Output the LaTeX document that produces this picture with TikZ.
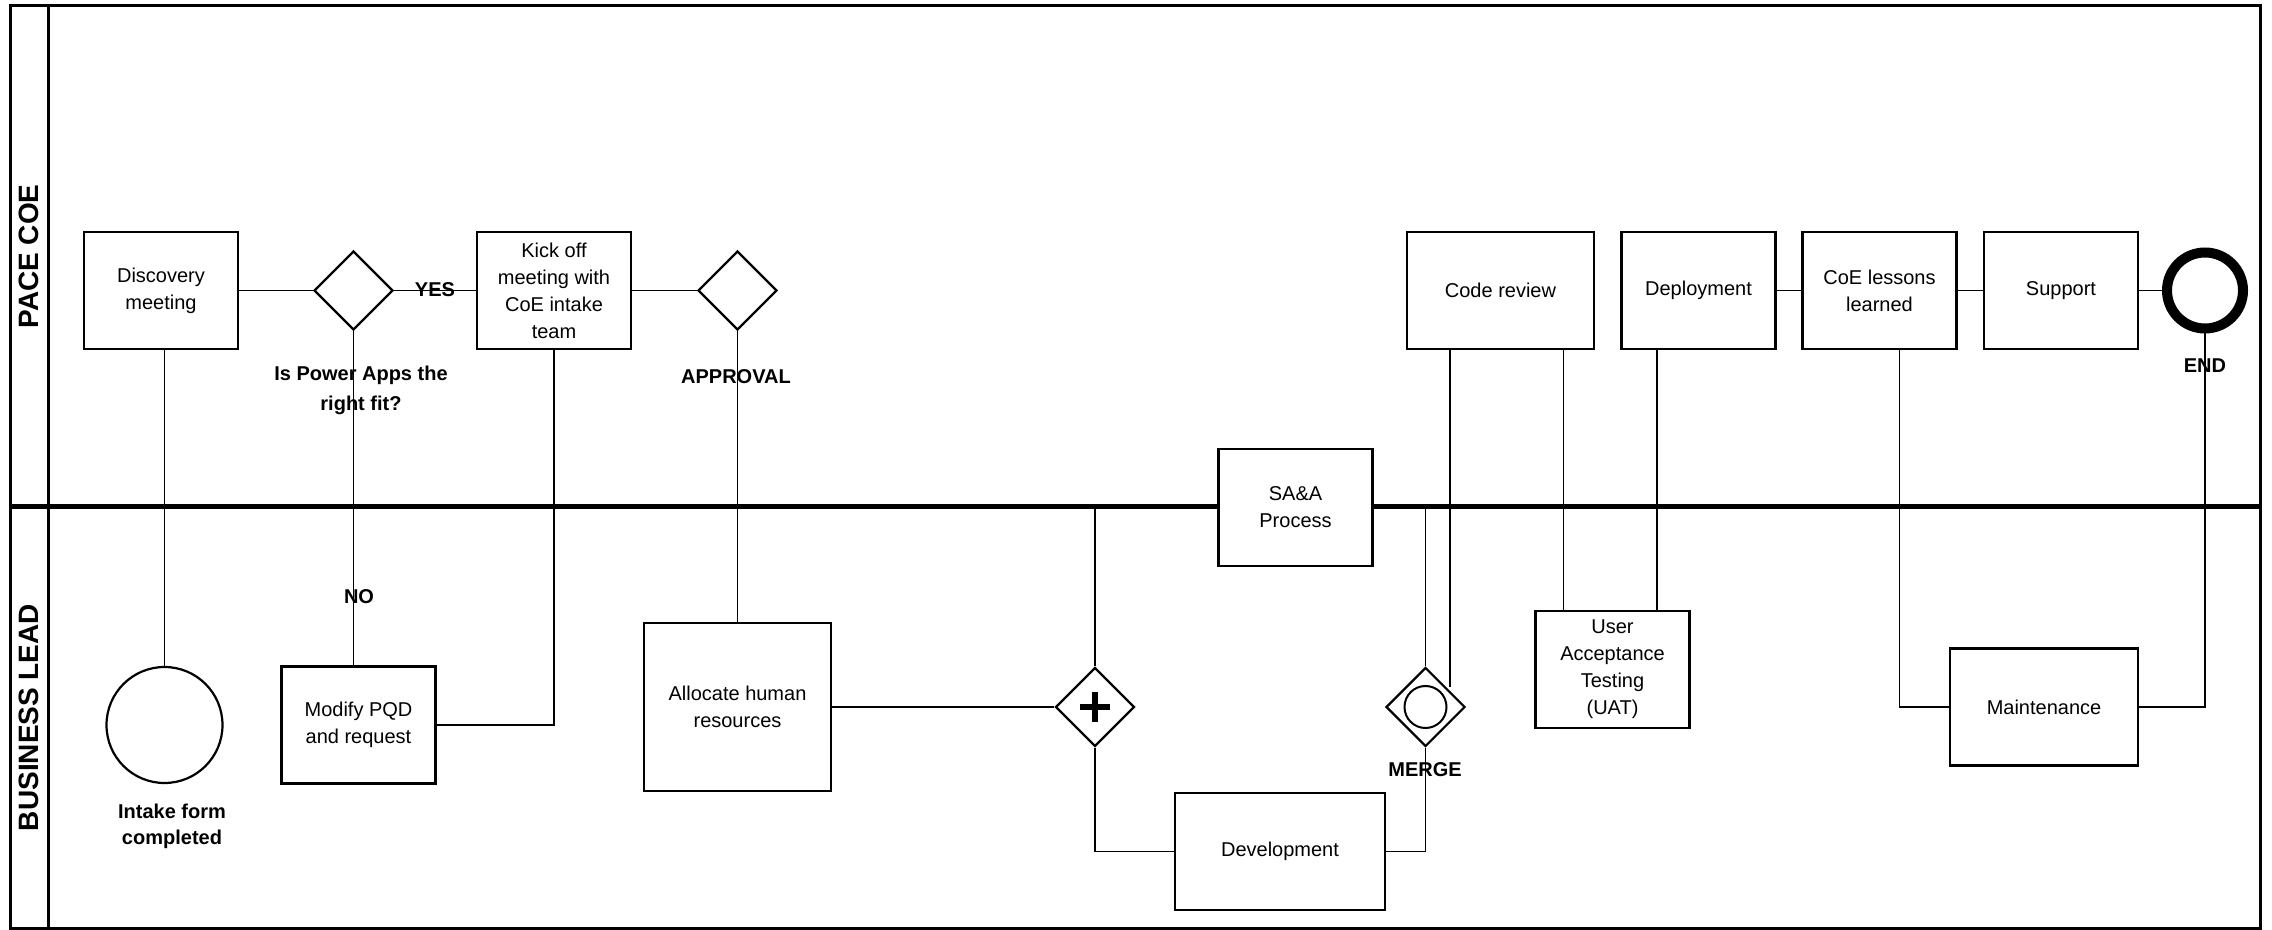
\documentclass[tikz,border=0pt]{standalone}
\usepackage{fontspec}
\setmainfont{Liberation Sans}
\usetikzlibrary{shapes.geometric}

\tikzset{
	task/.style={draw, line width=1.1pt, fill=white, align=center, inner sep=2pt,
		minimum width=77pt, minimum height=58.5pt, font=\fontsize{10pt}{13.5pt}\selectfont},
	gate/.style={diamond, draw, line width=1.1pt, fill=white, inner sep=0pt,
		minimum width=39.5pt, minimum height=39.5pt},
	startev/.style={circle, draw, line width=1.1pt, inner sep=0pt, minimum size=58pt},
	endev/.style={circle, draw, line width=5pt, inner sep=0pt, minimum size=38pt},
	lbl/.style={font=\fontsize{10pt}{13pt}\selectfont\bfseries, inner sep=0pt, align=center},
	lane/.style={rotate=90, font=\fontsize{14pt}{16pt}\selectfont\bfseries, inner sep=0pt},
	flow/.style={line width=0.9pt}
}

\begin{document}
\begin{tikzpicture}[x=0.5pt, y=-0.5pt]
	\useasboundingbox (0,0) rectangle (2272,930);
	% pool frame and lanes
	\draw[line width=1.5pt] (10,6) rectangle (2260,928);
	\draw[line width=1.5pt] (48,6) -- (48,928);
	\draw[line width=2.5pt] (10,507) -- (2260,507);
	\node[lane] (pace) at (29,256.5) {PACE COE};
	\node[lane] (biz) at (29,717.5) {BUSINESS LEAD};
	% top lane (PACE CoE)
	\node[task] (disc) at (161,290.5) {Discovery\\meeting};
	\node[gate] (gw1) at (353.5,290.5) {};
	\node[task] (kick) at (554,290.5) {Kick off\\meeting with\\CoE intake\\team};
	\node[gate] (gw2) at (737.5,290.5) {};
	\node[task, minimum width=93.5pt] (review) at (1500.5,290.5) {Code review};
	\node[task] (depl) at (1698.5,290.5) {Deployment};
	\node[task] (lessons) at (1879.5,290.5) {CoE lessons\\learned};
	\node[task] (support) at (2061,290.5) {Support};
	\node[endev] (end) at (2205,290.5) {};
	% on the lane border
	\node[task] (saa) at (1295.5,507.5) {SA\&A\\Process};
	% bottom lane (business lead)
	\node[startev] (intake) at (164.5,725) {};
	\node[task] (modify) at (358.5,725) {Modify PQD\\and request};
	\node[task, minimum width=93.5pt, minimum height=84pt] (alloc) at (737.5,707) {Allocate human\\resources};
	\node[gate] (plus) at (1095,707) {};
	\node[task, minimum width=105pt] (dev) at (1280,851.5) {Development};
	\node[gate] (merge) at (1425.5,707) {};
	\node[task] (uat) at (1612.5,669.5) {User\\Acceptance\\Testing\\(UAT)};
	\node[task, minimum width=94pt] (maint) at (2044,707) {Maintenance};
	% gateway markers
	\draw[line width=3pt] ([xshift=-7.5pt]plus.center) -- ([xshift=7.5pt]plus.center);
	\draw[line width=3pt] ([yshift=-7.5pt]plus.center) -- ([yshift=7.5pt]plus.center);
	\draw[line width=1pt] (merge.center) circle[radius=10.5pt];
	% sequence flows
	\draw[flow] (intake.north) -- (intake.north |- disc.south);
	\draw[flow] (disc.east) -- (gw1.west);
	\draw[flow] (gw1.east) -- (kick.west);
	\draw[flow] (gw1.south) -- (gw1.south |- modify.north);
	\draw[flow] (modify.east) -| (kick.south);
	\draw[flow] (kick.east) -- (gw2.west);
	\draw[flow] (gw2.south) -- (alloc.north);
	\draw[flow] (alloc.east) -- (plus.west);
	\draw[flow] (plus.north) |- (saa.west);
	\draw[flow] (plus.south) |- (dev.west);
	\draw[flow] (dev.east) -| (merge.south);
	\draw[flow] (saa.east) -| (merge.north);
	\draw[flow] ([xshift=2pt]merge.north east) -- ([xshift=2pt]merge.north east |- review.south);
	\draw[flow] ([xshift=14.5pt]uat.north west) -- ([xshift=14.5pt]uat.north west |- review.south);
	\draw[flow] ([xshift=-17pt]uat.north east) -- ([xshift=-17pt]uat.north east |- depl.south);
	\draw[flow] (depl.east) -- (lessons.west);
	\draw[flow] (lessons.east) -- (support.west);
	\draw[flow] (support.east) -- (end.west);
	\draw[flow] ([xshift=10pt]lessons.south) |- (maint.west);
	\draw[flow] (maint.east) -| (end.south);
	% labels
	\node[lbl] (yes) at (435,290) {YES};
	\node[lbl, font=\fontsize{10pt}{15pt}\selectfont\bfseries] (fitq) at (361,390) {Is Power Apps the\\right fit?};
	\node[lbl] (no) at (359,597) {NO};
	\node[lbl] (appr) at (736,377) {APPROVAL};
	\node[lbl] (mergelbl) at (1425,770) {MERGE};
	\node[lbl] (endlbl) at (2205,366) {END};
	\node[lbl] (intakelbl) at (172,826) {Intake form\\completed};
\end{tikzpicture}
\end{document}
